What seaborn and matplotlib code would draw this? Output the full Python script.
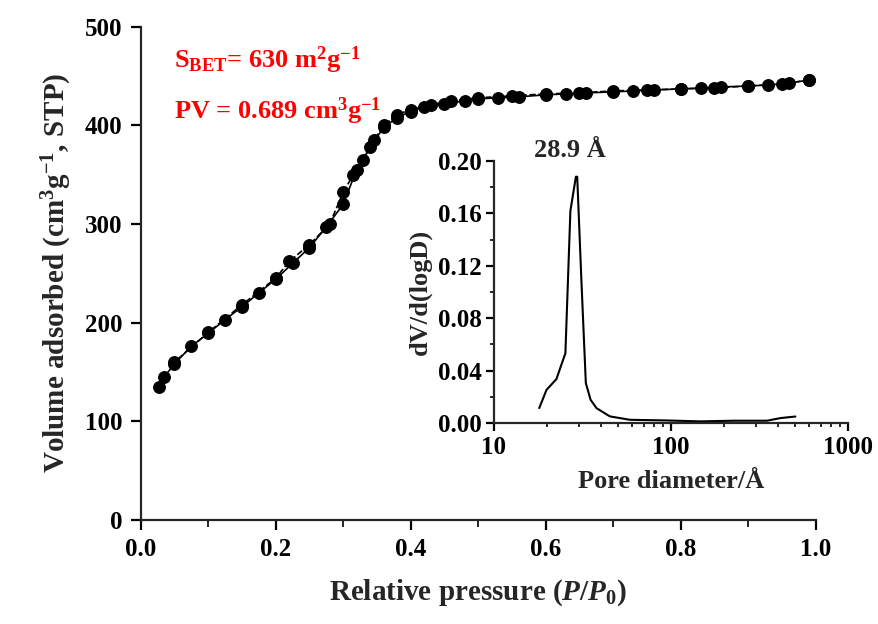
"""N2 adsorption-desorption isotherm with BJH pore size distribution inset."""
import numpy as np
import pandas as pd
import matplotlib
matplotlib.use("Agg")
import matplotlib.pyplot as plt
from matplotlib.ticker import MultipleLocator, LogLocator, NullFormatter, FormatStrFormatter, FixedLocator, FixedFormatter
import seaborn as sns

# isotherm, adsorption branch
ads_p = [0.027, 0.035, 0.05, 0.075, 0.10, 0.125, 0.15, 0.175, 0.20, 0.225, 0.25,
         0.275, 0.30, 0.32, 0.34, 0.36, 0.38, 0.40, 0.42, 0.45, 0.48, 0.50, 0.53,
         0.56, 0.60, 0.63, 0.66, 0.70, 0.73, 0.76, 0.80, 0.83, 0.86, 0.90, 0.93,
         0.96, 0.99]
ads_v = [135, 145, 158, 176, 189, 203, 216, 230, 244, 260, 276,
         297, 320, 355, 378, 398, 408, 414, 419, 422, 425, 427, 428,
         429, 431, 432, 433, 434, 435, 436, 437, 438, 439, 440, 441,
         443, 446]

# isotherm, desorption branch
des_p = [0.99, 0.95, 0.90, 0.85, 0.80, 0.75, 0.70, 0.65, 0.60, 0.55, 0.50, 0.46,
         0.43, 0.40, 0.38, 0.36, 0.345, 0.33, 0.315, 0.30, 0.28, 0.25, 0.22,
         0.20, 0.15, 0.10, 0.05]
des_v = [446, 442, 440, 438, 437, 436, 435, 433, 432, 430, 428, 425,
         421, 416, 411, 400, 385, 365, 350, 332, 300, 279, 262,
         245, 218, 190, 160]

# pore size distribution
pore_d = [18.0, 19.8, 22.5, 25.3, 27.0, 29.0, 29.5, 31.2, 33.0, 35.1, 37.9,
          45.1, 58.6, 94.5, 146, 225, 348, 414, 503]
pore_dv = [0.0114, 0.0254, 0.0335, 0.0533, 0.162, 0.188, 0.188, 0.1066, 0.0305,
           0.0178, 0.0114, 0.0051, 0.0025, 0.0020, 0.0013, 0.0018, 0.0018,
           0.0038, 0.0050]

sns.set_theme(style="ticks")
plt.rcParams["font.family"] = ["Liberation Serif", "DejaVu Serif"]
plt.rcParams["font.weight"] = "bold"
plt.rcParams["axes.labelweight"] = "bold"
plt.rcParams["mathtext.fontset"] = "custom"
plt.rcParams["mathtext.rm"] = "Liberation Serif:bold"
plt.rcParams["mathtext.it"] = "Liberation Serif:italic:bold"
plt.rcParams["mathtext.bf"] = "Liberation Serif:bold"
plt.rcParams["axes.linewidth"] = 1.6
for k in ("xtick", "ytick"):
    plt.rcParams[f"{k}.major.width"] = 1.6
    plt.rcParams[f"{k}.minor.width"] = 1.2
    plt.rcParams[f"{k}.direction"] = "out"
    plt.rcParams[f"{k}.color"] = "black"

ads = pd.DataFrame({"p": ads_p, "v": ads_v})
des = pd.DataFrame({"p": des_p, "v": des_v})
psd = pd.DataFrame({"d": pore_d, "dv": pore_dv})

fig = plt.figure(figsize=(8.79, 6.24), dpi=100)
ax = fig.add_axes([0.160, 0.167, 0.768, 0.790])

sns.lineplot(data=ads, x="p", y="v", ax=ax, color="black", lw=1.2,
             marker="o", markersize=8.5, markeredgecolor="black", sort=False)
sns.lineplot(data=des, x="p", y="v", ax=ax, color="black", lw=1.2, ls="--",
             marker="o", markersize=8.5, markeredgecolor="black", sort=False)

ax.set_xlim(0, 1.0)
ax.set_ylim(0, 500)
ax.xaxis.set_major_locator(MultipleLocator(0.2))
ax.xaxis.set_minor_locator(MultipleLocator(0.1))
ax.xaxis.set_major_formatter(FormatStrFormatter("%.1f"))
ax.yaxis.set_major_locator(MultipleLocator(100))
ax.tick_params(axis="both", which="major", length=7, labelsize=18, pad=6)
ax.tick_params(axis="x", which="minor", length=5)
ax.set_xlabel(r"Relative pressure ($\it{P/P_0}$)", fontsize=21, labelpad=12)
ax.set_ylabel(r"Volume adsorbed (cm$^3$g$^{-1}$, STP)", fontsize=21, labelpad=8)
sns.despine(ax=ax)

ax.text(0.05, 0.965, r"S$_\mathrm{BET}$= 630 m$^2$g$^{-1}$", transform=ax.transAxes,
        color="red", fontsize=19, va="top")
ax.text(0.05, 0.86, r"PV = 0.689 cm$^3$g$^{-1}$", transform=ax.transAxes,
        color="red", fontsize=19, va="top")

# inset
ins = fig.add_axes([0.562, 0.322, 0.403, 0.420])
sns.lineplot(data=psd, x="d", y="dv", ax=ins, color="black", lw=1.5, sort=False)
ins.set_xscale("log")
ins.set_xlim(10, 1000)
ins.set_ylim(0, 0.20)
ins.xaxis.set_major_locator(FixedLocator([10, 100, 1000]))
ins.xaxis.set_major_formatter(FixedFormatter(["10", "100", "1000"]))
ins.xaxis.set_minor_locator(LogLocator(base=10, subs=np.arange(2, 10)))
ins.xaxis.set_minor_formatter(NullFormatter())
ins.yaxis.set_major_locator(MultipleLocator(0.04))
ins.yaxis.set_minor_locator(MultipleLocator(0.02))
ins.yaxis.set_major_formatter(FormatStrFormatter("%.2f"))
ins.tick_params(axis="both", which="major", length=6, labelsize=18, pad=3)
ins.tick_params(axis="both", which="minor", length=3)
ins.set_xlabel("Pore diameter/Å", fontsize=19, labelpad=8)
ins.set_ylabel("dV/d(logD)", fontsize=19, labelpad=4)
sns.despine(ax=ins)
ins.text(27, 0.199, "28.9 Å", ha="center", va="bottom", fontsize=19)

fig.savefig("out.png", dpi=100)
